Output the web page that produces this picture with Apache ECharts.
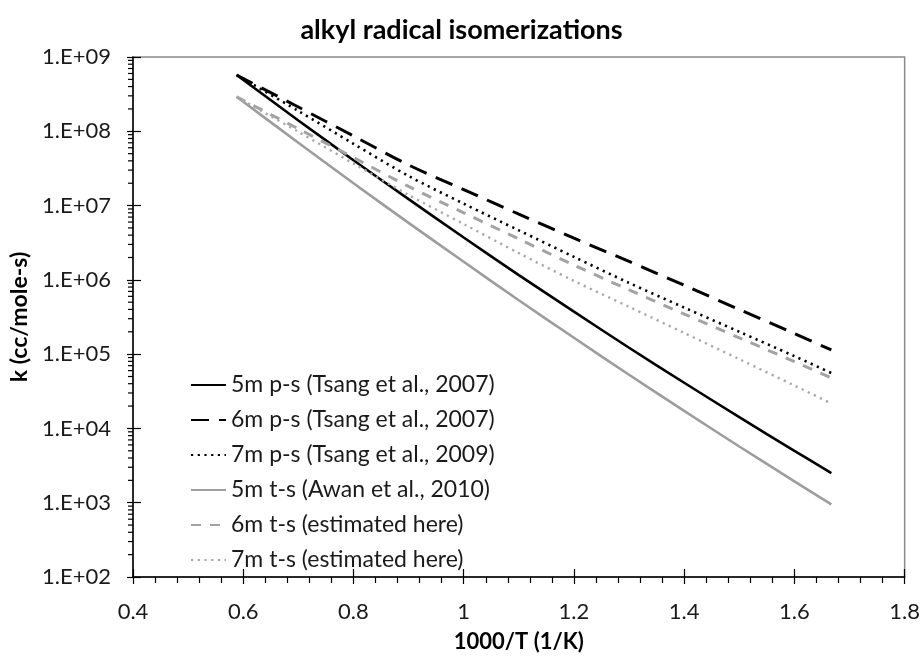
<!DOCTYPE html>
<html>
<head>
<meta charset="utf-8">
<script src="https://cdn.jsdelivr.net/npm/echarts@6/dist/echarts.min.js"></script>
<style>
html,body{margin:0;padding:0;background:#fff;}
#c{width:923px;height:659px;}
</style>
</head>
<body>
<div id="c"></div>
<script>
// 1000/T values (1/K)
const invT = [0.588, 0.7, 0.8, 0.9, 1.0, 1.1, 1.2, 1.3, 1.4, 1.5, 1.6, 1.667];
// rate constants k (cc/mole-s)
const k5mPS = [5.73e8, 1.40e8, 4.08e7, 1.22e7, 3.72e6, 1.16e6, 3.73e5, 1.22e5, 4.12e4, 1.42e4, 4.99e3, 2.51e3];
const k6mPS = [5.73e8, 2.12e8, 8.65e7, 3.52e7, 1.64e7, 7.66e6, 3.64e6, 1.77e6, 8.45e5, 3.99e5, 1.89e5, 1.14e5];
const k7mPS = [5.73e8, 1.88e8, 6.79e7, 2.50e7, 1.06e7, 4.64e6, 2.04e6, 9.10e5, 4.24e5, 2.00e5, 9.40e4, 5.57e4];
const k5mTS = [2.92e8, 7.01e7, 2.00e7, 5.85e6, 1.75e6, 5.32e5, 1.66e5, 5.28e4, 1.72e4, 5.71e3, 1.94e3, 9.50e2];
const k6mTS = [2.90e8, 1.08e8, 4.43e7, 1.81e7, 8.00e6, 3.55e6, 1.58e6, 7.33e5, 3.47e5, 1.66e5, 7.92e4, 4.78e4];
const k7mTS = [2.90e8, 9.84e7, 3.68e7, 1.39e7, 5.65e6, 2.29e6, 9.68e5, 4.33e5, 1.93e5, 8.55e4, 3.78e4, 2.17e4];
const seriesNames = [
  '5m p-s (Tsang et al., 2007)',
  '6m p-s (Tsang et al., 2007)',
  '7m p-s (Tsang et al., 2009)',
  '5m t-s (Awan et al., 2010)',
  '6m t-s (estimated here)',
  '7m t-s (estimated here)'
];
// axis ticks
const xTicks = [0.4, 0.6, 0.8, 1.0, 1.2, 1.4, 1.6, 1.8];
const yDecades = [2, 3, 4, 5, 6, 7, 8, 9];
const yMinorMultipliers = [2, 3, 4, 5, 6, 7, 8, 9];

const FONT = 'Lato';
const xMin = xTicks[0], xMax = xTicks[xTicks.length - 1];
const yMin = Math.pow(10, yDecades[0]), yMax = Math.pow(10, yDecades[yDecades.length - 1]);

const yMinorVals = [];
yDecades.slice(0, -1).forEach(d => yMinorMultipliers.forEach(m => yMinorVals.push(m * Math.pow(10, d))));

function pairs(arr) { return invT.map((x, i) => [x, arr[i]]); }

const styles = [
  {color: '#000000', width: 2.6, type: 'solid'},
  {color: '#000000', width: 3, type: [18, 10]},
  {color: '#000000', width: 2.6, type: [2.2, 4.5]},
  {color: '#9d9d9d', width: 2.6, type: 'solid'},
  {color: '#a3a3a3', width: 3, type: [10, 9]},
  {color: '#a8a8a8', width: 2.4, type: [2.2, 4.5]}
];
const dataSets = [k5mPS, k6mPS, k7mPS, k5mTS, k6mTS, k7mTS];

const lineSeries = dataSets.map((d, i) => ({
  name: seriesNames[i],
  type: 'line',
  data: pairs(d),
  symbol: 'none',
  smooth: 0.3,
  xAxisIndex: 0, yAxisIndex: 0,
  lineStyle: {color: styles[i].color, width: styles[i].width, type: styles[i].type, cap: 'butt'},
  itemStyle: {color: styles[i].color},
  z: 3
}));

const chart = echarts.init(document.getElementById('c'), null, {renderer: 'canvas'});
const axisLabelStyle = {color: '#1a1a1a', fontFamily: FONT, fontSize: 22};

chart.setOption({
  animation: false,
  backgroundColor: '#ffffff',
  title: {
    text: 'alkyl radical isomerizations',
    left: 'center', top: 12,
    textStyle: {fontFamily: FONT, fontWeight: 'bold', fontSize: 27, color: '#000'}
  },
  grid: {left: 133, right: 17, top: 57, bottom: 82, show: true, borderColor: '#8a8a8a', borderWidth: 1.5, backgroundColor: 'transparent'},
  legend: {
    orient: 'vertical', left: 190, top: 373, padding: 0,
    itemWidth: 35, itemHeight: 14, itemGap: 11,
    data: seriesNames,
    itemStyle: {opacity: 0},
    textStyle: {fontFamily: FONT, fontSize: 23, lineHeight: 24, color: '#1a1a1a'},
    selectedMode: false
  },
  xAxis: [{
    type: 'value', min: xMin, max: xMax, interval: 0.2,
    name: '1000/T (1/K)', nameLocation: 'middle', nameGap: 54,
    nameTextStyle: {fontFamily: FONT, fontWeight: 'bold', fontSize: 22, color: '#000'},
    axisLine: {show: true, onZero: false, lineStyle: {color: '#000', width: 1.5}},
    axisTick: {show: true, inside: false, length: 7, lineStyle: {color: '#000', width: 1.2}},
    minorTick: {show: true, splitNumber: 5, length: 6, lineStyle: {color: '#000', width: 1.2}},
    splitLine: {show: false},
    axisLabel: Object.assign({margin: 24, formatter: v => (Math.round(v * 10) / 10).toString()}, axisLabelStyle)
  }, {
    type: 'value', min: xMin, max: xMax, interval: 0.2, position: 'bottom',
    axisLine: {show: false, onZero: false},
    axisTick: {show: true, inside: true, length: 8, lineStyle: {color: '#000', width: 1.2}},
    axisLabel: {show: false}, splitLine: {show: false}
  }],
  yAxis: [{
    type: 'log', logBase: 10, min: yMin, max: yMax, interval: 1,
    name: 'k (cc/mole-s)', nameLocation: 'middle', nameGap: 98,
    nameTextStyle: {fontFamily: FONT, fontWeight: 'bold', fontSize: 23, color: '#000'},
    axisLine: {show: true, onZero: false, lineStyle: {color: '#000', width: 1.5}},
    axisTick: {show: true, inside: false, length: 6, lineStyle: {color: '#000', width: 1.2}},
    splitLine: {show: false},
    axisLabel: Object.assign({
      margin: 22, padding: [7, 0, 0, 0],
      formatter: v => { const e = Math.round(Math.log10(v)); return '1.E+' + (e < 10 ? '0' : '') + e; }
    }, axisLabelStyle)
  }, {
    type: 'log', logBase: 10, min: yMin, max: yMax, interval: 1, position: 'left',
    axisLine: {show: false, onZero: false},
    axisTick: {show: true, inside: true, length: 8, lineStyle: {color: '#000', width: 1.2}},
    axisLabel: {show: false}, splitLine: {show: false}
  }],
  series: lineSeries.concat([{
    type: 'custom',
    name: 'yMinorTicks',
    xAxisIndex: 0, yAxisIndex: 0,
    silent: true,
    clip: false,
    data: yMinorVals.map(v => [xMin, v]),
    renderItem: function (params, api) {
      const p = api.coord([api.value(0), api.value(1)]);
      return {
        type: 'line',
        shape: {x1: p[0] - 5, y1: p[1], x2: p[0], y2: p[1]},
        style: {stroke: '#000', lineWidth: 1.2}
      };
    },
    z: 5
  }])
});
</script>
</body>
</html>
